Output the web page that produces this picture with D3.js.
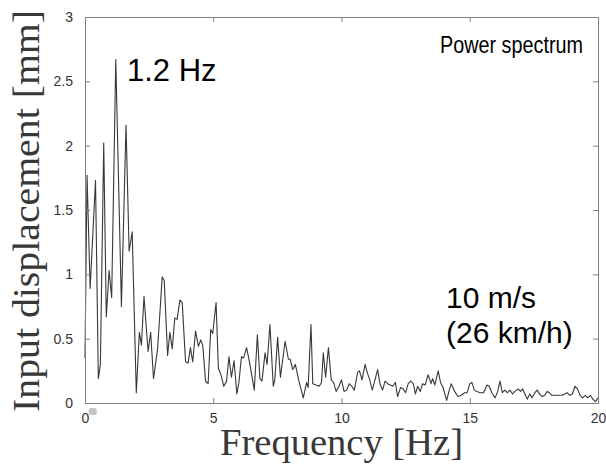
<!DOCTYPE html>
<html><head><meta charset="utf-8">
<script src="https://cdn.jsdelivr.net/npm/d3@7"></script>
<style>html,body{margin:0;padding:0;background:#fff;}svg{display:block;}</style>
</head><body>
<svg id="chart" width="606" height="470"></svg>
<script>
const freq = [0.0,0.08,0.2,0.41,0.52,0.6,0.73,0.83,0.94,1.04,1.2,1.42,1.6,1.72,1.84,2.0,2.12,2.2,2.3,2.46,2.56,2.67,2.83,3.01,3.09,3.22,3.31,3.4,3.5,3.59,3.7,3.79,3.92,4.02,4.11,4.2,4.31,4.42,4.51,4.59,4.7,4.8,4.9,4.98,5.11,5.2,5.3,5.41,5.52,5.61,5.71,5.81,5.92,6.0,6.1,6.18,6.3,6.42,6.6,6.72,6.82,6.9,7.02,7.1,7.21,7.34,7.4,7.51,7.62,7.8,7.93,8.0,8.1,8.2,8.34,8.51,8.64,8.7,8.81,8.88,9.0,9.13,9.22,9.29,9.38,9.49,9.6,9.69,9.79,9.9,10.0,10.1,10.2,10.3,10.4,10.5,10.63,10.7,10.8,10.92,11.0,11.1,11.2,11.33,11.41,11.5,11.6,11.7,11.8,11.9,12.0,12.1,12.19,12.3,12.4,12.5,12.6,12.7,12.8,12.88,12.97,13.07,13.16,13.26,13.38,13.49,13.55,13.64,13.77,13.86,13.96,14.1,14.2,14.28,14.41,14.54,14.67,14.8,14.9,15.0,15.08,15.18,15.28,15.41,15.54,15.67,15.76,15.86,15.99,16.09,16.18,16.27,16.37,16.46,16.57,16.67,16.76,16.89,16.98,17.06,17.15,17.24,17.34,17.43,17.54,17.63,17.72,17.83,17.92,18.02,18.1,18.2,18.3,18.4,18.5,18.6,18.7,18.8,18.9,19.0,19.1,19.2,19.3,19.4,19.5,19.6,19.7,19.8,19.9,20.0];
const displacement = [0.35,1.77,0.89,1.73,0.19,0.3,2.02,0.67,1.03,0.82,2.67,0.75,2.16,1.18,1.33,0.08,0.55,0.45,0.83,0.40,0.55,0.19,0.42,0.98,0.95,0.37,0.55,0.42,0.66,0.65,0.80,0.78,0.32,0.31,0.43,0.32,0.56,0.44,0.49,0.45,0.17,0.15,0.57,0.54,0.78,0.27,0.22,0.13,0.17,0.36,0.2,0.33,0.07,0.16,0.36,0.35,0.43,0.31,0.10,0.53,0.19,0.17,0.39,0.30,0.61,0.13,0.18,0.51,0.20,0.48,0.34,0.34,0.26,0.3,0.17,0.04,0.16,0.12,0.61,0.15,0.14,0.13,0.16,0.39,0.2,0.43,0.18,0.16,0.09,0.13,0.18,0.09,0.1,0.15,0.13,0.10,0.24,0.25,0.18,0.30,0.24,0.18,0.10,0.2,0.26,0.15,0.10,0.17,0.15,0.14,0.13,0.16,0.05,0.12,0.11,0.08,0.15,0.17,0.15,0.07,0.13,0.09,0.15,0.14,0.22,0.15,0.19,0.14,0.25,0.16,0.12,0.02,0.1,0.15,0.09,0.05,0.06,0.08,0.08,0.15,0.16,0.1,0.09,0.08,0.08,0.14,0.13,0.08,0.04,0.09,0.17,0.08,0.10,0.08,0.1,0.07,0.09,0.11,0.09,0.11,0.07,0.03,0.07,0.04,0.08,0.10,0.07,0.05,0.06,0.09,0.08,0.06,0.06,0.06,0.06,0.06,0.07,0.08,0.06,0.07,0.13,0.11,0.06,0.04,0.06,0.04,0.06,0.03,0.01,0.04];
const xTicks = [0,5,10,15,20];
const yTicks = [0,0.5,1,1.5,2,2.5,3];
const xLabel = "Frequency [Hz]";
const yLabel = "Input displacement [mm]";
const annotations = ["Power spectrum","1.2 Hz","10 m/s","(26 km/h)"];

const svg = d3.select("#chart");
const L=85, R=598, T=17, B=403;
const x = d3.scaleLinear().domain([0,20]).range([L,R]);
const y = d3.scaleLinear().domain([0,3]).range([B,T]);
const axisColor = "#808080";
const tickFont = "'Liberation Sans', Arial, sans-serif";

// line
const data = freq.map((f,i)=>({f, v: displacement[i]}));
svg.append("path").datum(data)
  .attr("fill","none").attr("stroke","#383838").attr("stroke-width",1.1).attr("stroke-linejoin","round")
  .attr("d", d3.line().x(d=>x(d.f)).y(d=>y(d.v)));

// axes (inward ticks, mirrored)
function styleAxis(g){
  g.select(".domain").attr("stroke",axisColor).attr("stroke-width",1);
  g.selectAll(".tick line").attr("stroke",axisColor);
  g.selectAll(".tick text").attr("fill","#333").attr("font-family",tickFont).attr("font-size",14);
}
svg.append("g").attr("transform",`translate(0,${B})`)
  .call(d3.axisBottom(x).tickValues(xTicks).tickFormat(d3.format("d")).tickSizeInner(-5).tickSizeOuter(0).tickPadding(10))
  .call(styleAxis);
svg.append("g").attr("transform",`translate(0,${T})`)
  .call(d3.axisTop(x).tickValues(xTicks).tickFormat("").tickSizeInner(-5).tickSizeOuter(0))
  .call(styleAxis);
svg.append("g").attr("transform",`translate(${L},0)`)
  .call(d3.axisLeft(y).tickValues(yTicks).tickFormat(d3.format("~g")).tickSizeInner(-5).tickSizeOuter(0).tickPadding(12))
  .call(styleAxis);
svg.append("g").attr("transform",`translate(${R},0)`)
  .call(d3.axisRight(y).tickValues(yTicks).tickFormat("").tickSizeInner(-5).tickSizeOuter(0))
  .call(styleAxis);

// small gray marker below origin
svg.append("rect").attr("x",x(0.3)-4).attr("y",B+5).attr("width",8).attr("height",7).attr("rx",2)
  .attr("fill","#c4c4c4");

// axis labels
const serif = "'Liberation Serif', 'Times New Roman', serif";
svg.append("text").attr("x",(L+R)/2).attr("y",455).attr("text-anchor","middle")
  .attr("font-family",serif).attr("font-size",37).attr("fill","#383838")
  .attr("textLength",243).attr("lengthAdjust","spacingAndGlyphs").text(xLabel);
svg.append("text").attr("transform",`translate(39,${(T+B)/2+1}) rotate(-90)`).attr("text-anchor","middle")
  .attr("font-family",serif).attr("font-size",38.5).attr("fill","#383838")
  .attr("textLength",402).attr("lengthAdjust","spacingAndGlyphs").text(yLabel);

// annotations
const sans = "'Liberation Sans', Arial, sans-serif";
svg.append("text").attr("x",440).attr("y",53).attr("font-family",sans).attr("font-size",23).attr("fill","#000")
  .attr("textLength",143).attr("lengthAdjust","spacingAndGlyphs").text(annotations[0]);
svg.append("text").attr("x",127).attr("y",81).attr("font-family",sans).attr("font-size",31).attr("fill","#000").text(annotations[1]);
svg.append("text").attr("x",446).attr("y",308).attr("font-family",sans).attr("font-size",30).attr("fill","#000").text(annotations[2]);
svg.append("text").attr("x",446).attr("y",343).attr("font-family",sans).attr("font-size",30).attr("fill","#000").text(annotations[3]);
</script>
</body></html>
